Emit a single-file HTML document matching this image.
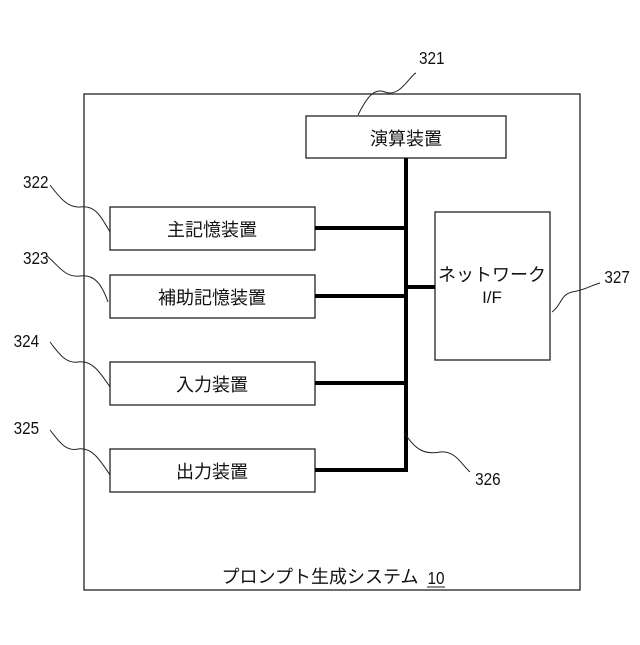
<!DOCTYPE html>
<html><head><meta charset="utf-8"><style>
body{margin:0;background:#fff}
svg text{font-family:"Liberation Sans","Noto Sans CJK JP",sans-serif;fill:#111}
</style></head><body>
<svg width="640" height="640" viewBox="0 0 640 640" xmlns="http://www.w3.org/2000/svg">
<rect x="0" y="0" width="640" height="640" fill="#fff"/>
<g fill="#fff" stroke="#222" stroke-width="1.3">
<rect x="84" y="94" width="496" height="496"/>
<rect x="306" y="116" width="200" height="42"/>
<rect x="110" y="207" width="205" height="43"/>
<rect x="110" y="275" width="205" height="43"/>
<rect x="110" y="362" width="205" height="43"/>
<rect x="110" y="449" width="205" height="43"/>
<rect x="435" y="212" width="115" height="148"/>
</g>
<g stroke="#000" stroke-width="4" fill="none">
<line x1="406" y1="158" x2="406" y2="472"/>
<line x1="315" y1="228" x2="406" y2="228"/>
<line x1="315" y1="296" x2="406" y2="296"/>
<line x1="315" y1="383" x2="406" y2="383"/>
<line x1="315" y1="470" x2="408" y2="470"/>
<line x1="406" y1="287" x2="435" y2="287"/>
</g>
<g stroke="#222" stroke-width="1" fill="none">
<path d="M358,115 C368,95 375,88 385,92 C400,98 410,75 416,73"/>
<path d="M50,185 C60,198 68,208 80,207 C95,205 100,215 110,232"/>
<path d="M47,256 C58,265 65,278 80,276 C95,274 102,285 108,302"/>
<path d="M50,342 C58,352 65,364 78,362 C92,360 100,372 110,387"/>
<path d="M50,430 C58,440 65,452 78,449 C92,447 100,460 110,475"/>
<path d="M404,432 C415,450 425,455 440,452 C455,450 462,465 470,472"/>
<path d="M552,312 C562,305 560,295 572,292 C585,290 592,285 600,283"/>
</g>
<g font-size="18" text-anchor="middle">
<text x="406" y="145">演算装置</text>
<text x="212" y="236">主記憶装置</text>
<text x="212" y="304">補助記憶装置</text>
<text x="212" y="391">入力装置</text>
<text x="212" y="478">出力装置</text>
<text x="492" y="281">ネットワーク</text>
<text x="492" y="303" font-size="17">I/F</text>
<text x="320" y="583">プロンプト生成システム</text>
</g>
<g font-size="18" text-anchor="middle" transform="scale(0.85,1)">
<text x="508" y="64">321</text>
<text x="42" y="188">322</text>
<text x="42" y="264">323</text>
<text x="31" y="347">324</text>
<text x="31" y="434">325</text>
<text x="574" y="485">326</text>
<text x="726" y="283">327</text>
<text x="513" y="584">10</text>
</g>
<line x1="427" y1="587" x2="445" y2="587" stroke="#222" stroke-width="1"/>
</svg>
</body></html>
